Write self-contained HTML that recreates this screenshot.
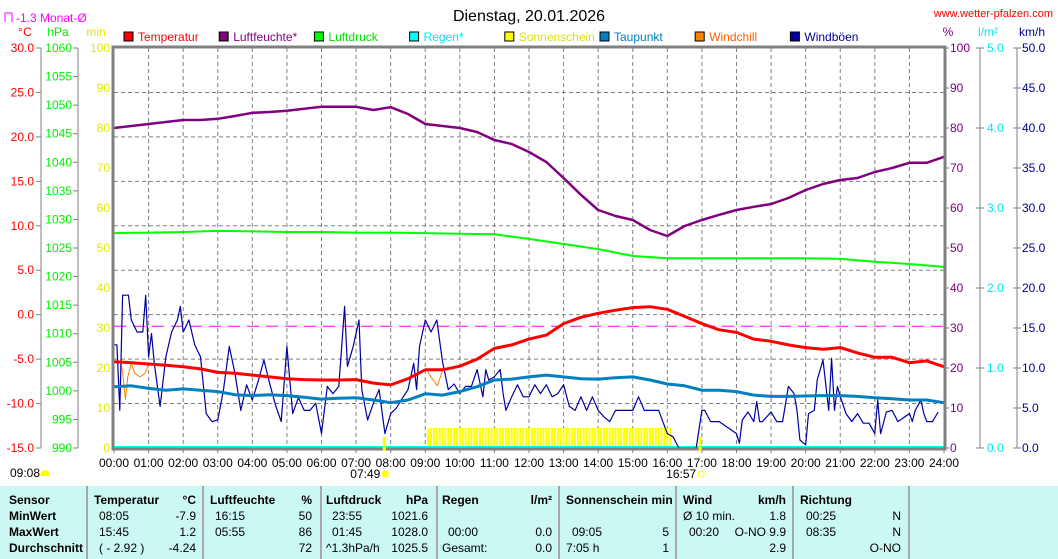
<!DOCTYPE html>
<html><head><meta charset="utf-8">
<style>
body{margin:0;background:#fff;width:1058px;height:559px;overflow:hidden;font-family:"Liberation Sans",sans-serif;}
svg{position:absolute;left:0;top:0;}
svg text{font-family:"Liberation Sans",sans-serif;font-size:12px;}
#tbl{position:absolute;left:0;top:486px;width:1058px;height:73px;background:#ccf8f4;}
.sep{position:absolute;top:0;width:2px;height:73px;background:#a8a8a8;}
.c{position:absolute;font-size:12px;white-space:nowrap;color:#000;}
.b{font-weight:bold;}
.r{text-align:right;}
</style></head><body>
<svg id="chart" width="1058" height="486"></svg>
<div id="tbl">
 <div class="sep" style="left:86px"></div><div class="sep" style="left:202px"></div><div class="sep" style="left:320px"></div><div class="sep" style="left:436px"></div><div class="sep" style="left:558px"></div><div class="sep" style="left:675px"></div><div class="sep" style="left:792px"></div><div class="sep" style="left:908px"></div>
 <div class="c b" style="left:9px;top:7px">Sensor</div>
 <div class="c b" style="left:9px;top:23px">MinWert</div>
 <div class="c b" style="left:9px;top:39px">MaxWert</div>
 <div class="c b" style="left:9px;top:55px">Durchschnitt</div>
 <div class="c b" style="left:94px;top:7px">Temperatur</div><div class="c b r" style="right:862px;top:7px">°C</div>
 <div class="c" style="left:99px;top:23px">08:05</div><div class="c r" style="right:862px;top:23px">-7.9</div>
 <div class="c" style="left:99px;top:39px">15:45</div><div class="c r" style="right:862px;top:39px">1.2</div>
 <div class="c" style="left:99px;top:55px">( - 2.92 )</div><div class="c r" style="right:862px;top:55px">-4.24</div>
 <div class="c b" style="left:210px;top:7px">Luftfeuchte</div><div class="c b r" style="right:746px;top:7px">%</div>
 <div class="c" style="left:215px;top:23px">16:15</div><div class="c r" style="right:746px;top:23px">50</div>
 <div class="c" style="left:215px;top:39px">05:55</div><div class="c r" style="right:746px;top:39px">86</div>
 <div class="c r" style="right:746px;top:55px">72</div>
 <div class="c b" style="left:326px;top:7px">Luftdruck</div><div class="c b r" style="right:630px;top:7px">hPa</div>
 <div class="c" style="left:332px;top:23px">23:55</div><div class="c r" style="right:630px;top:23px">1021.6</div>
 <div class="c" style="left:332px;top:39px">01:45</div><div class="c r" style="right:630px;top:39px">1028.0</div>
 <div class="c" style="left:326px;top:55px">^1.3hPa/h</div><div class="c r" style="right:630px;top:55px">1025.5</div>
 <div class="c b" style="left:442px;top:7px">Regen</div><div class="c b r" style="right:506px;top:7px">l/m²</div>
 <div class="c" style="left:448px;top:39px">00:00</div><div class="c r" style="right:506px;top:39px">0.0</div>
 <div class="c" style="left:442px;top:55px">Gesamt:</div><div class="c r" style="right:506px;top:55px">0.0</div>
 <div class="c b" style="left:566px;top:7px">Sonnenschein min</div>
 <div class="c" style="left:572px;top:39px">09:05</div><div class="c r" style="right:389px;top:39px">5</div>
 <div class="c" style="left:566px;top:55px">7:05 h</div><div class="c r" style="right:389px;top:55px">1</div>
 <div class="c b" style="left:683px;top:7px">Wind</div><div class="c b r" style="right:272px;top:7px">km/h</div>
 <div class="c" style="left:683px;top:23px">Ø 10 min.</div><div class="c r" style="right:272px;top:23px">1.8</div>
 <div class="c" style="left:689px;top:39px">00:20</div><div class="c r" style="right:272px;top:39px">O-NO 9.9</div>
 <div class="c r" style="right:272px;top:55px">2.9</div>
 <div class="c b" style="left:800px;top:7px">Richtung</div>
 <div class="c" style="left:806px;top:23px">00:25</div><div class="c r" style="right:157px;top:23px">N</div>
 <div class="c" style="left:806px;top:39px">08:35</div><div class="c r" style="right:157px;top:39px">N</div>
 <div class="c r" style="right:157px;top:55px">O-NO</div>
</div>
<script>
// ---- data ----
const halfHours = [0,0.5,1,1.5,2,2.5,3,3.5,4,4.5,5,5.5,6,6.5,7,7.5,8,8.5,9,9.5,10,10.5,11,11.5,12,12.5,13,13.5,14,14.5,15,15.5,16,16.5,17,17.5,18,18.5,19,19.5,20,20.5,21,21.5,22,22.5,23,23.5,24];
const tempVals = [-5.3,-5.4,-5.55,-5.7,-5.85,-6.1,-6.5,-6.6,-6.8,-7.0,-7.2,-7.3,-7.35,-7.35,-7.3,-7.7,-7.9,-7.2,-6.2,-6.2,-5.8,-5.0,-3.8,-3.4,-2.75,-2.3,-1.0,-0.3,0.15,0.5,0.8,0.9,0.6,-0.2,-1.0,-1.7,-2.0,-2.75,-3.0,-3.4,-3.7,-3.9,-3.7,-4.3,-4.8,-4.8,-5.4,-5.2,-5.85];
const humVals = [80,80.5,81,81.5,82,82,82.3,83,83.8,84,84.3,84.8,85.3,85.3,85.3,84.5,85.2,83.5,81,80.5,80,79,77,76,74,71.5,67.5,63.3,59.5,58,57,54.5,53,55.5,57,58.3,59.5,60.3,61,62.5,64.5,66,67,67.5,69,70,71.3,71.3,72.8];
const dewVals = [-8.1,-8.0,-8.3,-8.5,-8.35,-8.5,-8.65,-9.0,-9.1,-9.0,-9.1,-9.3,-9.5,-9.4,-9.35,-9.6,-9.9,-9.6,-8.9,-9.05,-8.65,-8.1,-7.35,-7.25,-7.0,-6.8,-7.0,-7.2,-7.25,-7.1,-7.0,-7.35,-7.8,-8.0,-8.5,-8.5,-8.65,-9.05,-9.2,-9.2,-9.15,-9.1,-9.1,-9.2,-9.35,-9.45,-9.6,-9.6,-9.9];
const pressHours = [0,1,2,3,4,5,6,7,8,9,10,11,12,13,14,15,16,17,18,19,20,21,22,23,24];
const pressVals = [1027.6,1027.7,1027.8,1028.0,1027.9,1027.8,1027.8,1027.7,1027.7,1027.6,1027.5,1027.4,1026.6,1025.7,1024.8,1023.6,1023.2,1023.2,1023.2,1023.2,1023.2,1023.1,1022.6,1022.2,1021.7];
const gustMin = [0,5,10,15,25,30,40,50,55,60,65,70,80,90,100,110,115,120,130,140,150,160,170,180,190,200,210,220,230,240,250,260,270,280,290,300,310,320,330,340,350,360,370,380,390,400,405,415,425,430,440,450,460,470,480,490,500,510,520,525,530,540,550,560,570,580,590,600,610,620,630,640,645,650,660,670,675,680,690,700,710,720,730,740,750,760,770,780,790,800,810,820,830,840,850,860,870,880,890,900,910,920,930,945,960,970,980,990,1000,1010,1020,1025,1035,1045,1050,1080,1085,1090,1100,1110,1115,1120,1125,1140,1150,1160,1170,1180,1185,1190,1200,1205,1215,1220,1230,1240,1245,1250,1255,1260,1270,1280,1290,1300,1310,1320,1325,1330,1340,1350,1360,1380,1385,1390,1400,1405,1410,1420,1430,1440];
const gustVals = [12.9,12.9,4.7,19.1,19.1,16,14.5,14.5,19.1,11.4,14.3,10.6,5.2,11.4,14.5,16,17.7,14.5,16,12.9,11.4,4.3,3.3,3.5,7.3,12.7,9.3,4.7,7.9,6,8.3,11,8.1,5.4,3.3,12.7,4.3,6.3,4.7,4.7,5.6,1.8,7.7,6.8,7.7,17.7,10.2,12.7,16,7.3,3.5,5.6,7.3,1.8,4.3,5,6.2,7.3,10.6,7.3,12.7,16,14.5,16,10.8,7.3,8,6.8,7.7,7.7,9.8,6.4,9.8,8.5,8.9,9.8,6.8,4.7,6.4,7.9,6.4,6.4,7.9,6.8,7.9,6.4,6.8,7.9,5.2,4.7,6.4,4.7,6.4,4.7,3.9,3.3,4.7,4.7,4.7,4.7,6.4,4.7,4.7,4.7,1.8,1.4,0,0,0,0,4.7,4.7,3.3,3.3,3.3,1.8,0.6,3.5,4.5,3.3,5.8,3.3,3.3,4.5,3.3,3.3,7.7,6.8,4.7,1,0.4,4.3,4.7,8.5,11,4.7,11.2,4.7,7.7,6.4,4.3,3.3,4.3,3.1,3.1,1.8,6,1.8,4.5,4.7,3.3,4.3,3.3,4.7,6,4.3,3.3,3.3,4.5];
const chillHours = [0.2,0.25,0.33,0.4,0.5,0.6,0.75,0.9,1.0];
const chillVals = [-5.4,-6.5,-9.5,-7.0,-5.5,-6.6,-7.0,-6.6,-5.6];
const chill2Hours = [9.05,9.2,9.35,9.5];
const chill2Vals = [-6.3,-7.2,-8.0,-6.3];
const sunStartMin = 545;
const sunVals = [5,5,5,5,5,5,5,5,5,5,5,5,5,5,5,5,5,5,5,5,5,5,5,5,5,5,5,5,5,5,5,5,5,5,5,5,5,5,5,5,5,5,5,5,5,5,5,5,5,5,5,5,5,5,5,5,5,5,5,5,5,5,5,5,5,5,5,5,5,5,5,5,5,5,5,5,5,5,5,5,5,5,5,5,5];
const tempTicks = [30,25,20,15,10,5,0,-5,-10,-15];
const tempTickLabels = ["30.0","25.0","20.0","15.0","10.0","5.0","0.0","-5.0","-10.0","-15.0"];
const pressTicks = [1060,1055,1050,1045,1040,1035,1030,1025,1020,1015,1010,1005,1000,995,990];
const pctTicks = [100,90,80,70,60,50,40,30,20,10,0];
const rainTicks = [5,4,3,2,1,0];
const windTicks = [50,45,40,35,30,25,20,15,10,5,0];
const hourLabels = ["00:00","01:00","02:00","03:00","04:00","05:00","06:00","07:00","08:00","09:00","10:00","11:00","12:00","13:00","14:00","15:00","16:00","17:00","18:00","19:00","20:00","21:00","22:00","23:00","24:00"];
const monthAvg = -1.3;

// ---- scales ----
const X0=114, X1=944, Y0=48, Y1=448;
const xH = h => X0 + (X1-X0)*h/24;
const yT = t => Y0 + (30-t)*(Y1-Y0)/45;
const yP = p => Y0 + (1060-p)*(Y1-Y0)/70;
const yPct = v => Y1 - v*(Y1-Y0)/100;
const yR = v => Y1 - v*(Y1-Y0)/5;
const yW = v => Y1 - v*(Y1-Y0)/50;
const yS = v => Y1 - v*4;

const svg = document.getElementById('chart');
const NS='http://www.w3.org/2000/svg';
function mk(tag, attrs, parent){const e=document.createElementNS(NS,tag);for(const k in attrs)e.setAttribute(k,attrs[k]);(parent||svg).appendChild(e);return e;}
function txt(x,y,s,fill,anchor){const e=mk('text',{x:x,y:y,fill:fill,'text-anchor':anchor||'start'});e.textContent=s;return e;}

// grid
for(let h=1;h<24;h++){const l=mk('line',{x1:xH(h),x2:xH(h),y1:Y0,y2:Y1,stroke:'#808080','stroke-dasharray':'4,3'});

}
tempTicks.forEach(t=>{if(t<30&&t>-15){const l=mk('line',{x1:X0,x2:X1,y1:yT(t),y2:yT(t),stroke:'#808080','stroke-dasharray':'4,3'});

}});

// left axes
mk('line',{x1:41,x2:41,y1:Y0,y2:Y1,stroke:'#808080'});
mk('line',{x1:78,x2:78,y1:Y0,y2:Y1,stroke:'#808080'});
tempTicks.forEach((t,i)=>{mk('line',{x1:36,x2:41,y1:yT(t),y2:yT(t),stroke:'#808080'});const e=txt(34,yT(t)+4,tempTickLabels[i],'#ff0000','end');

});
pressTicks.forEach(p=>{mk('line',{x1:73,x2:78,y1:yP(p),y2:yP(p),stroke:'#808080'});const e=txt(72,yP(p)+4,String(p),'#00ee00','end');

});
pctTicks.forEach(v=>{const e=txt(110,yPct(v)+4,String(v),'#e8e800','end');


mk('line',{x1:X1,x2:X1+5,y1:yPct(v),y2:yPct(v),stroke:'#808080'});
const r=txt(950,yPct(v)+4,String(v),'#800080','start');

});
mk('line',{x1:980,x2:980,y1:Y0,y2:Y1,stroke:'#808080'});
rainTicks.forEach(v=>{mk('line',{x1:976,x2:984,y1:yR(v),y2:yR(v),stroke:'#808080'});const e=txt(987,yR(v)+4,v.toFixed(1),'#00e8f0','start');

});
mk('line',{x1:1017,x2:1017,y1:Y0,y2:Y1,stroke:'#808080'});
windTicks.forEach(v=>{mk('line',{x1:1013,x2:1021,y1:yW(v),y2:yW(v),stroke:'#808080'});const e=txt(1022,yW(v)+4,v.toFixed(1),'#000090','start');

});

// unit labels
[['°C',25,'#ff0000'],['hPa',58,'#00ee00'],['min',96,'#e8e800'],['%',948,'#800080'],['l/m²',988,'#00e8f0'],['km/h',1032,'#000090']].forEach(u=>{const e=txt(u[1],36,u[0],u[2],'middle');

});

// monthly avg note
mk('path',{d:'M5 22 V13 H12 V22',fill:'none',stroke:'#ff00ff'});
{const e=txt(16,22,'-1.3 Monat-Ø','#ff00ff');

}
{const e=txt(529,21,'Dienstag, 20.01.2026','#000','middle');e.style.fontSize='16px';

}
{const e=txt(1053,17,'www.wetter-pfalzen.com','#ff0000','end');e.style.fontSize='11px';

}

// legend
const legend=[['Temperatur','#ff0000','#ff0000'],['Luftfeuchte*','#800080','#800080'],['Luftdruck','#00ff00','#00dd00'],['Regen*','#00ffff','#00e8f0'],['Sonnenschein','#ffff00','#e0e000'],['Taupunkt','#0080c0','#0080c0'],['Windchill','#ff8000','#ff6000'],['Windböen','#0000a0','#000090']];
legend.forEach((l,i)=>{const x=124+i*95.2;const g=mk('g',{});


mk('rect',{x:x,y:32,width:9,height:9,fill:l[1],stroke:'#000'},g);const t=mk('text',{x:x+14,y:41,fill:l[2]},g);t.textContent=l[0];});

// sunshine bars
sunVals.forEach((v,i)=>{const m=sunStartMin+i*5;const b=mk('rect',{x:xH(m/60)-1,y:yS(v),width:2,height:Y1-yS(v),fill:'#ffff00'});

});

// rain line
{const l=mk('line',{x1:X0,x2:X1,y1:yR(0)-1,y2:yR(0)-1,stroke:'#00ffff','stroke-width':2});

}

// month avg line
{const l=mk('line',{x1:X0,x2:X1,y1:yT(monthAvg),y2:yT(monthAvg),stroke:'#ff00ff','stroke-dasharray':'12,7'});

}

function poly(xs,ys,fx,fy,color,w,name){const pts=xs.map((x,i)=>fx(x).toFixed(1)+','+fy(ys[i]).toFixed(1)).join(' ');const p=mk('polyline',{points:pts,fill:'none',stroke:color,'stroke-width':w,'stroke-linejoin':'round'});


return p;}
poly(chillHours,chillVals,xH,yT,'#ff8000',1,'windchill-line');
poly(chill2Hours,chill2Vals,xH,yT,'#ff8000',1,'windchill-line');
poly(gustMin.map(m=>m/60),gustVals,xH,yW,'#0000a0',1.2,'gust-line');
poly(pressHours,pressVals,xH,yP,'#00ff00',2,'pressure-line');
poly(halfHours,humVals,xH,yPct,'#800080',2.5,'humidity-line');
poly(halfHours,dewVals,xH,yT,'#0080c0',3,'dewpoint-line');
poly(halfHours,tempVals,xH,yT,'#ff0000',3,'temperature-line');

// plot border
mk('rect',{x:X0-1,y:Y0-1,width:X1-X0+2,height:Y1-Y0+2,fill:'none',stroke:'#808080','stroke-width':3});

// x labels
hourLabels.forEach((s,i)=>{mk('line',{x1:xH(i),x2:xH(i),y1:Y1,y2:Y1+5,stroke:'#808080'});const e=txt(xH(i),467,s,'#000','middle');

});

// sunrise/sunset markers
[[7+49/60,'07:49'],[16+57/60,'16:57']].forEach(s=>{const l=mk('rect',{x:xH(s[0])-1.5,y:437,width:3,height:14,fill:'#ffff00'});


const e=txt(xH(s[0])-4,478,s[1],'#000','end');


mk('circle',{cx:xH(s[0])+1,cy:474,r:3,fill:s[1]==='07:49'?'#ffff00':'none',stroke:'#ffff00'});});
{const e=txt(10,477,'09:08','#000');

}
mk('path',{d:'M40 476 Q41 470 45 470 Q49 470 50 476 Z',fill:'#ffff00'});
</script>
</body></html>
